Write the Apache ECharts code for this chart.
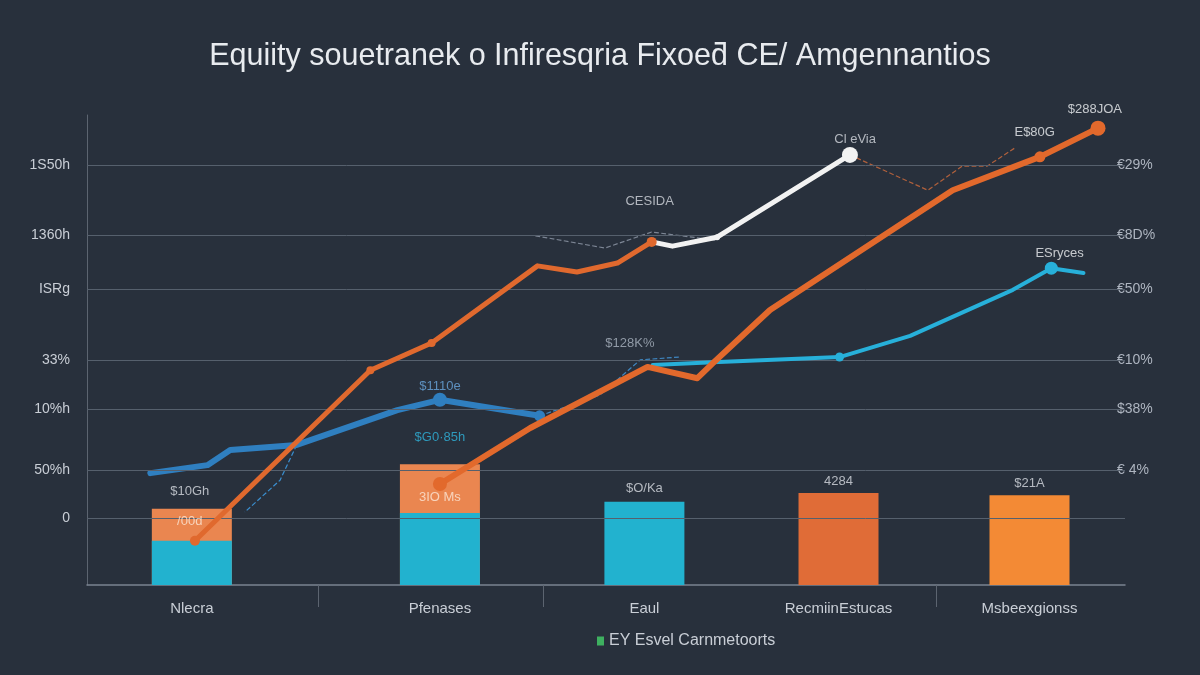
<!DOCTYPE html>
<html><head><meta charset="utf-8">
<script src="https://cdn.jsdelivr.net/npm/echarts@6/dist/echarts.min.js"></script>
<style>html,body{margin:0;padding:0;background:#28303c}#c{width:1200px;height:675px}</style>
</head><body><div id="c"></div>
<script>
// ---- data ----
const titleText = 'Equiity souetranek o Infiresqria Fixoeƌ CE/ Amgennantios';
const legendName = 'EY Esvel Carnmetoorts';
const categories = ['Nlecra', 'Pfenases', 'Eaul', 'RecmiinEstucas', 'Msbeexgionss'];
const categoryX = [10.1, 34.0, 53.7, 72.4, 90.8];
const barBase = [9.4, 15.3, 17.7, 19.6, 19.1];
const barTop = [6.8, 10.4, 0, 0, 0];
const separatorX = [22.3, 44.0, 81.8];
const leftTickValues = [14.3, 24.5, 37.4, 47.9, 63.0, 74.5, 89.4];
const leftTickLabels = ['0', '50%h', '10%h', '33%', 'ISRg', '1360h', '1S50h'];
const rightTickValues = [24.5, 37.4, 47.9, 63.0, 74.5, 89.4];
const rightTickLabels = ['€ 4%', '$38%', '€10%', '€50%', '€8D%', '€29%'];

const lineOrangeA = [[10.4, 9.4], [27.3, 45.7], [33.2, 51.5], [43.4, 67.9], [47.2, 66.6], [51.1, 68.5], [54.4, 73.0]];
const lineWhite = [[54.4, 73.0], [56.4, 72.1], [60.7, 74.0], [73.5, 91.5]];
const lineOrangeB = [[34.0, 21.5], [42.7, 33.4], [54.0, 46.4], [58.8, 44.0], [60.3, 47.2], [65.8, 58.5], [83.4, 84.0], [91.8, 91.1], [97.4, 97.2]];
const lineBlue = [[6.1, 23.8], [11.6, 25.5], [13.8, 28.7], [20.2, 29.8], [29.9, 37.2], [34.0, 39.4], [43.6, 36.0]];
const lineCyan = [[54.5, 46.8], [60.3, 47.4], [72.5, 48.5], [79.3, 53.0], [89.2, 62.8], [92.9, 67.4], [96.0, 66.4]];
const dashBrown = [[73.5, 91.5], [81.0, 84.0], [84.3, 89.1], [86.7, 89.1], [89.4, 93.0]];
const dashGray = [[43.2, 74.3], [49.9, 71.7], [54.4, 75.1], [60.5, 73.4]];
const dashBlue = [[43.6, 36.0], [49.4, 40.4], [53.3, 47.9], [57.1, 48.5]];
const dashBlueDown = [[20.2, 29.8], [18.6, 22.3], [15.2, 15.5]];

const annText = ['CESIDA', 'Cl eVia', '$128K%', '$1110e', '$G0·85h', '$10Gh', '/00d', '3IO Ms', '$O/Ka', '4284', '$21A', 'E$80G', '$288JOA', 'ESryces'];
const annX = [54.2, 74.0, 52.3, 34.0, 34.0, 9.9, 9.9, 34.0, 53.7, 72.4, 90.8, 91.3, 97.1, 93.7];
const annY = [81.7, 94.7, 51.5, 42.3, 31.5, 20.0, 13.6, 18.7, 20.6, 22.1, 21.7, 96.2, 101.1, 70.6];

// ---- styles ----
const annColors = ['#d4d8de', '#d4d8de', '#aab4c0', '#6aa8de', '#2fb4dc', '#d8dce2', '#fbe6d6', '#fbe6d6', '#d8dce2', '#d8dce2', '#d8dce2', '#eef0f2', '#eef0f2', '#eef0f2'];
const totalColors = ['#ea8650', '#ea8650', '#22b2cf', '#e06c37', '#f38a35'];
const baseColor = '#22b2cf';
const sizesA = [10, 8, 8, 0, 0, 0, 10];
const sizesW = [0, 0, 6, 16];
const sizesB = [14, 0, 0, 0, 0, 0, 0, 11, 15];
const sizesBlue = [0, 0, 0, 0, 0, 14, 11];
const sizesCyan = [0, 0, 9, 0, 0, 13, 0];

const fmtFrom = (vals, labels) => v => {
  for (let i = 0; i < vals.length; i++) if (Math.abs(vals[i] - v) < 0.05) return labels[i];
  return '';
};

function lineSeries(data, color, width, sizes, z) {
  return {
    type: 'line', data: data, z: z || 5,
    symbol: 'circle',
    symbolSize: (v, p) => sizes[p.dataIndex],
    lineStyle: { color: color, width: width, cap: 'round', join: 'round' },
    itemStyle: { color: color },
    emphasis: { disabled: true }
  };
}
function dashSeries(data, color) {
  return {
    type: 'line', data: data, z: 3, showSymbol: false, symbol: 'none',
    lineStyle: { color: color, width: 1.2, type: 'dashed' },
    emphasis: { disabled: true }
  };
}

const chart = echarts.init(document.getElementById('c'));
chart.setOption({
  backgroundColor: '#28303c',
  animation: false,
  textStyle: { fontFamily: 'Liberation Sans, Arial, sans-serif' },
  title: {
    text: titleText, left: 'center', top: 36,
    textStyle: { color: '#e8ebef', fontSize: 30.5, fontWeight: 'normal', fontFamily: 'Liberation Sans, Arial, sans-serif' }
  },
  legend: {
    data: [legendName], left: 592, top: 628, icon: 'rect', itemWidth: 7, itemHeight: 9, itemGap: 4,
    textStyle: { color: '#c9ced6', fontSize: 16 }
  },
  grid: { left: 87, right: 75, top: 115, bottom: 90 },
  xAxis: {
    type: 'value', min: 0, max: 100,
    splitLine: { show: false },
    axisLine: { show: true, lineStyle: { color: '#7a8290', width: 1.5 } },
    axisTick: { show: true, customValues: separatorX, length: 22, lineStyle: { color: '#5c6470' } },
    axisLabel: {
      customValues: categoryX, formatter: fmtFrom(categoryX, categories),
      color: '#c9ced6', fontSize: 15, margin: 16
    }
  },
  yAxis: [{
    type: 'value', min: 0, max: 100,
    splitLine: { show: false },
    axisLine: { show: true, lineStyle: { color: '#5c6470' } },
    axisTick: { show: false },
    axisLabel: {
      customValues: leftTickValues, formatter: fmtFrom(leftTickValues, leftTickLabels),
      color: '#c9ced6', fontSize: 14, margin: 17
    }
  }, {
    type: 'value', min: 0, max: 100, position: 'right',
    splitLine: { show: false },
    axisLine: { show: false },
    axisTick: { show: false },
    axisLabel: {
      customValues: rightTickValues, formatter: fmtFrom(rightTickValues, rightTickLabels),
      color: '#aeb5c0', fontSize: 14, margin: -8
    }
  }],
  series: [
    {
      type: 'bar', barWidth: 80, barGap: '-100%', z: 2,
      data: categoryX.map((x, i) => ({ value: [x, barBase[i] + barTop[i]], itemStyle: { color: totalColors[i] } })),
      emphasis: { disabled: true }
    },
    {
      type: 'bar', barWidth: 80, barGap: '-100%', z: 2,
      data: categoryX.map((x, i) => [x, barTop[i] > 0 ? barBase[i] : 0]),
      itemStyle: { color: baseColor },
      emphasis: { disabled: true }
    },
    dashSeries(dashBrown, '#b0603c'),
    dashSeries(dashGray, '#7c8594'),
    dashSeries(dashBlue, '#3f86c0'),
    dashSeries(dashBlueDown, '#3a8fd0'),
    lineSeries(lineBlue, '#2f7fc0', 6, sizesBlue, 4),
    lineSeries(lineCyan, '#27b0da', 4, sizesCyan, 5),
    lineSeries(lineOrangeA, '#e0692e', 5, sizesA, 6),
    lineSeries(lineWhite, '#f2f2f2', 5, sizesW, 6),
    lineSeries(lineOrangeB, '#e2692c', 6, sizesB, 7),
    {
      name: legendName, type: 'line', data: [], itemStyle: { color: '#3eb060' }, lineStyle: { width: 0 }
    },
    {
      type: 'scatter', symbolSize: 0, z: 10, clip: false,
      data: annX.map((x, i) => [x, annY[i]]),
      label: {
        show: true, position: 'inside', fontSize: 13,
        formatter: p => annText[p.dataIndex],
        color: 'inherit'
      },
      itemStyle: { color: (p) => annColors[p.dataIndex] },
      emphasis: { disabled: true },
      markLine: {
        silent: true, symbol: 'none', label: { show: false },
        lineStyle: { color: '#56606d', type: 'solid', width: 1 },
        data: leftTickValues.map(v => ({ yAxis: v }))
      }
    }
  ]
});
</script></body></html>
